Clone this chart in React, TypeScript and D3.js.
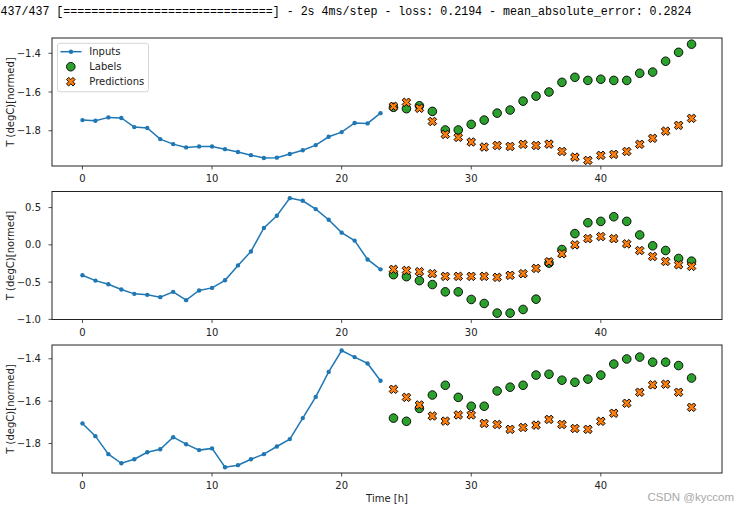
import React from "react";
import * as d3 from "d3";

const progressText =
  "437/437 [==============================] - 2s 4ms/step - loss: 0.2194 - mean_absolute_error: 0.2824";
const yLabel = "T (degC)[normed]";
const xLabel = "Time [h]";
const legendNames = ["Inputs", "Labels", "Predictions"];
const watermark = "CSDN @kyccom";

const xTicks = [0, 10, 20, 30, 40];
const inputIdx = d3.range(0, 24);
const labelIdx = d3.range(24, 48);

const inputs1 = [-1.745,-1.748,-1.731,-1.734,-1.781,-1.786,-1.843,-1.869,-1.886,-1.881,-1.881,-1.895,-1.910,-1.926,-1.941,-1.939,-1.920,-1.901,-1.874,-1.831,-1.807,-1.760,-1.762,-1.709];
const labels1 = [-1.679,-1.686,-1.671,-1.700,-1.796,-1.796,-1.767,-1.745,-1.709,-1.693,-1.647,-1.621,-1.600,-1.550,-1.524,-1.540,-1.534,-1.540,-1.540,-1.503,-1.497,-1.441,-1.395,-1.353];
const preds1 = [-1.674,-1.653,-1.684,-1.752,-1.819,-1.834,-1.858,-1.884,-1.876,-1.881,-1.870,-1.876,-1.869,-1.907,-1.936,-1.953,-1.927,-1.922,-1.907,-1.870,-1.839,-1.802,-1.772,-1.736];

const inputs2 = [-0.409,-0.480,-0.529,-0.600,-0.658,-0.671,-0.702,-0.631,-0.742,-0.613,-0.578,-0.476,-0.276,-0.089,0.227,0.391,0.627,0.591,0.480,0.337,0.164,0.057,-0.196,-0.329];
const labels2 = [-0.400,-0.427,-0.480,-0.533,-0.631,-0.631,-0.733,-0.787,-0.916,-0.916,-0.867,-0.729,-0.245,-0.063,0.151,0.297,0.315,0.377,0.315,0.133,-0.013,-0.076,-0.183,-0.219];
const preds2 = [-0.329,-0.343,-0.360,-0.387,-0.423,-0.423,-0.423,-0.423,-0.436,-0.409,-0.387,-0.316,-0.227,-0.120,0.000,0.084,0.111,0.084,0.013,-0.076,-0.156,-0.223,-0.267,-0.289];

const inputs3 = [-1.705,-1.765,-1.850,-1.893,-1.874,-1.841,-1.827,-1.770,-1.803,-1.831,-1.823,-1.912,-1.902,-1.874,-1.850,-1.814,-1.779,-1.680,-1.580,-1.462,-1.361,-1.392,-1.422,-1.504];
const labels3 = [-1.680,-1.695,-1.634,-1.571,-1.525,-1.582,-1.624,-1.624,-1.552,-1.534,-1.525,-1.477,-1.473,-1.501,-1.511,-1.496,-1.477,-1.425,-1.401,-1.392,-1.416,-1.416,-1.432,-1.491];
const preds3 = [-1.544,-1.582,-1.618,-1.670,-1.694,-1.665,-1.665,-1.705,-1.710,-1.733,-1.724,-1.713,-1.686,-1.710,-1.729,-1.733,-1.695,-1.657,-1.610,-1.558,-1.523,-1.520,-1.558,-1.629];

const yTicks1 = [-1.4, -1.6, -1.8];
const yTicks2 = [0.5, 0.0, -0.5, -1.0];
const yTicks3 = [-1.4, -1.6, -1.8];

const panels = [
  { inputs: inputs1, labels: labels1, preds: preds1, ticks: yTicks1, domain: [-1.982, -1.321] },
  { inputs: inputs2, labels: labels2, preds: preds2, ticks: yTicks2, domain: [-1.002, 0.716] },
  { inputs: inputs3, labels: labels3, preds: preds3, ticks: yTicks3, domain: [-1.939, -1.335] },
];

const W = 750;
const H = 513;
const left = 52;
const right = 722;
const panelTops = [38, 191.5, 345];
const panelH = 128;

const BLUE = "#1f77b4";
const GREEN = "#2ca02c";
const ORANGE = "#ff7f0e";
const FONT = "DejaVu Sans, sans-serif";

const fmt = (v: number) => d3.format(".1f")(v).replace("-", "\u2212");

const xPath = d3.symbol().type(d3.symbolCross).size(46)();
const dotR = 4.3;

function Panel({ p, top, showXLabel }: any) {
  const x = d3.scaleLinear().domain([-2.35, 49.35]).range([left, right]);
  const y = d3.scaleLinear().domain(p.domain).range([top + panelH, top]);
  const line = d3
    .line<number>()
    .x((_, i) => x(inputIdx[i]))
    .y((d) => y(d));
  const bottom = top + panelH;
  return (
    <g>
      <path d={line(p.inputs) || ""} fill="none" stroke={BLUE} strokeWidth={1.5} />
      {p.inputs.map((v: number, i: number) => (
        <circle key={"i" + i} cx={x(inputIdx[i])} cy={y(v)} r={2.2} fill={BLUE} />
      ))}
      {p.labels.map((v: number, i: number) => (
        <circle key={"l" + i} cx={x(labelIdx[i])} cy={y(v)} r={dotR} fill={GREEN} stroke="#000" strokeWidth={0.9} />
      ))}
      {p.preds.map((v: number, i: number) => (
        <path
          key={"p" + i}
          d={xPath || ""}
          transform={`translate(${x(labelIdx[i])},${y(v)}) rotate(45)`}
          fill={ORANGE}
          stroke="#000"
          strokeWidth={0.9}
        />
      ))}
      <rect x={left} y={top} width={right - left} height={panelH} fill="none" stroke="#222" strokeWidth={1} />
      {xTicks.map((t) => (
        <g key={"xt" + t}>
          <line x1={x(t)} x2={x(t)} y1={bottom} y2={bottom + 3.5} stroke="#222" strokeWidth={0.8} />
          <text x={x(t)} y={bottom + 16} textAnchor="middle" fontSize={10} fontFamily={FONT} fill="#222">
            {t}
          </text>
        </g>
      ))}
      {p.ticks.map((t: number) => (
        <g key={"yt" + t}>
          <line x1={left - 3.5} x2={left} y1={y(t)} y2={y(t)} stroke="#222" strokeWidth={0.8} />
          <text x={41} y={y(t) + 3.6} textAnchor="end" fontSize={10} fontFamily={FONT} fill="#222">
            {fmt(t)}
          </text>
        </g>
      ))}
      <text
        transform={`translate(13.5,${top + panelH / 2}) rotate(-90)`}
        textAnchor="middle"
        fontSize={10}
        fontFamily={FONT}
        fill="#222"
      >
        {yLabel}
      </text>
      {showXLabel && (
        <text x={(left + right) / 2} y={502} textAnchor="middle" fontSize={10} fontFamily={FONT} fill="#222">
          {xLabel}
        </text>
      )}
    </g>
  );
}

function Legend() {
  const lx = 57.5;
  const ly = 43.3;
  const rows = [51.7, 66.7, 81.7];
  return (
    <g>
      <rect x={lx} y={ly} width={91} height={48.5} rx={2.5} fill="#fff" fillOpacity={0.8} stroke="#ccc" strokeWidth={0.8} />
      <line x1={60.5} x2={81.5} y1={rows[0]} y2={rows[0]} stroke={BLUE} strokeWidth={1.5} />
      <circle cx={71} cy={rows[0]} r={2.2} fill={BLUE} />
      <circle cx={70.8} cy={rows[1]} r={dotR} fill={GREEN} stroke="#000" strokeWidth={0.9} />
      <path d={xPath || ""} transform={`translate(70.8,${rows[2]}) rotate(45)`} fill={ORANGE} stroke="#000" strokeWidth={0.9} />
      {legendNames.map((n, i) => (
        <text key={n} x={89.3} y={rows[i] + 3.6} fontSize={10} fontFamily={FONT} fill="#222">
          {n}
        </text>
      ))}
    </g>
  );
}

export default function App() {
  return (
    <div style={{ position: "absolute", left: 0, top: 0 }}>
      <svg width={W} height={H} style={{ display: "block", background: "#fff" }}>
        <text
          x={0.5}
          y={15}
          fontSize={12.5}
          fontFamily="Liberation Mono, DejaVu Sans Mono, monospace"
          textLength={691}
          lengthAdjust="spacingAndGlyphs"
          fill="#000"
        >
          {progressText}
        </text>
        {panels.map((p, k) => (
          <Panel key={k} p={p} top={panelTops[k]} showXLabel={k === 2} />
        ))}
        <Legend />
        <text x={734} y={501} textAnchor="end" fontSize={11.5} fontFamily="Liberation Sans, Arial, sans-serif" fill="#a8a8a8">
          {watermark}
        </text>
      </svg>
    </div>
  );
}
